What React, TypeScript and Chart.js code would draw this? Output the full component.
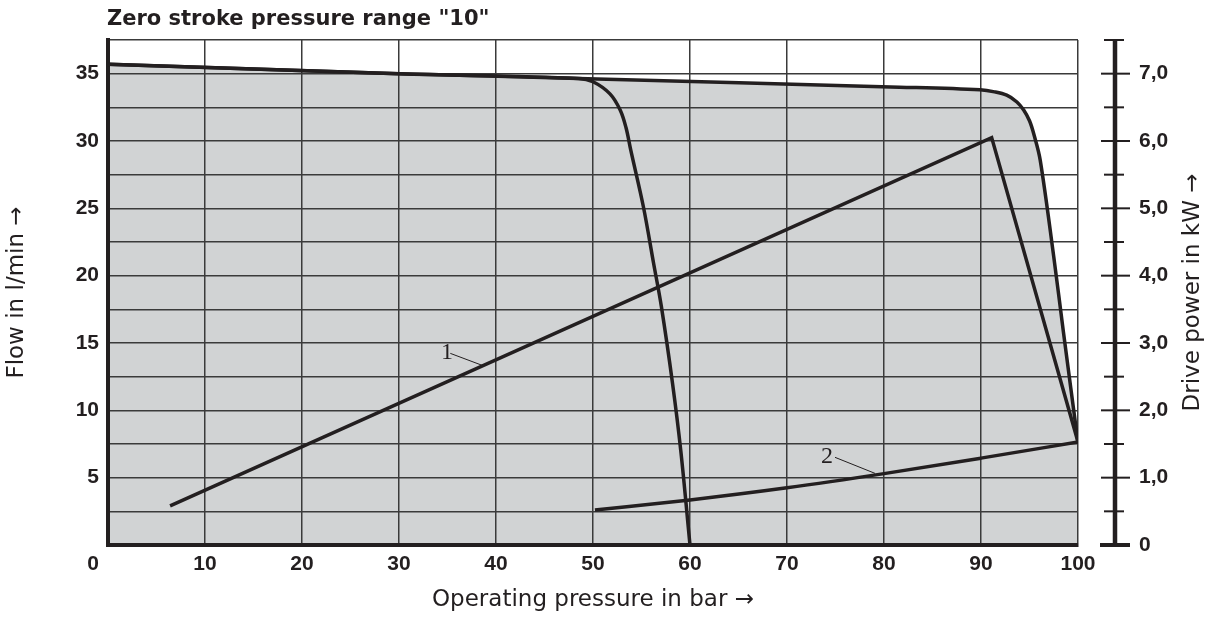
import React, { useEffect, useRef } from 'react';
import { Chart, registerables } from 'chart.js';

Chart.register(...registerables);

// ---------- data ----------
const chartTitle = 'Zero stroke pressure range "10"';
const xTitle = 'Operating pressure in bar →';
const yTitle = 'Flow in l/min →';
const y1Title = 'Drive power in kW →';

const flowLabels = [5, 10, 15, 20, 25, 30, 35];
const powerLabelValues = [0, 1, 2, 3, 4, 5, 6, 7];
const powerLabels = ['0', '1,0', '2,0', '3,0', '4,0', '5,0', '6,0', '7,0'];

// Flow curve, zero stroke pressure 60 bar (pressure in bar, flow in l/min)
const flowA_pressure = [0, 30, 48.5, 50.0, 51.75, 52.8, 53.4, 53.9, 55.2, 56.25, 57.05, 58.2, 59.05, 60];
const flowA_flow = [35.7, 35.0, 34.65, 34.4, 33.5, 32.3, 31.0, 29.3, 25.1, 20.9, 17.7, 12.0, 7.0, 0];

// Flow curve, zero stroke pressure 100 bar (envelope, filled)
const flowB_pressure = [0, 30, 48.5, 81.6, 89.9, 91.4, 92.65, 93.7, 94.4, 95.0, 95.45, 96.1, 97.5, 98.5, 100];
const flowB_flow = [35.7, 35.0, 34.65, 34.0, 33.8, 33.65, 33.4, 32.9, 32.3, 31.5, 30.5, 28.6, 21.4, 15.8, 7.6];

// Drive power curve 1 (kW)
const power1_pressure = [6.4, 91.1, 100];
const power1_kw = [0.58, 6.05, 1.53];

// Drive power curve 2 (kW)
const power2_pressure = [50.2, 60, 70, 80, 90, 100];
const power2_kw = [0.52, 0.67, 0.85, 1.06, 1.29, 1.53];

// curve labels: text, label centre (bar, l/min), leader start, leader end
const curveLabels = [
  { text: '1', at: [34.95, 14.25], from: [35.29, 14.23], to: [38.69, 13.31] },
  { text: '2', at: [74.12, 6.56], from: [74.95, 6.51], to: [79.07, 5.32] },
];

// ---------- styles ----------
const INK = '#231f20';
const GRID = '#3a3a3a';
const FILL = '#d1d3d4';
const TICK_FONT = { family: '"Liberation Sans", Arial, sans-serif', size: 21, weight: 'bold' as const };
const TITLE_FONT_FAMILY = '"DejaVu Sans", sans-serif';

const pts = (xs: number[], ys: number[]) => xs.map((x, i) => ({ x, y: ys[i] }));

const customPlugin = {
  id: 'customDecor',
  afterDraw(chart: any) {
    const { ctx, chartArea, scales } = chart;
    const xs = scales.x;
    const ys = scales.y;
    const y1 = scales.y1;
    ctx.save();

    // chart title
    ctx.fillStyle = INK;
    ctx.font = `bold 21px ${TITLE_FONT_FAMILY}`;
    ctx.textAlign = 'left';
    ctx.textBaseline = 'middle';
    ctx.fillText(chartTitle, chartArea.left - 1, chartArea.top - 20);

    // corner "0" label of the x axis
    ctx.font = `bold 21px ${TICK_FONT.family}`;
    ctx.textAlign = 'center';
    ctx.fillText('0', chartArea.left - 15, chartArea.bottom + 19.5);

    // right-hand drive power axis
    const ax = chartArea.right + 37;
    const top = y1.getPixelForValue(y1.max);
    const bottom = y1.getPixelForValue(0);
    ctx.strokeStyle = INK;
    ctx.lineWidth = 4.5;
    ctx.beginPath();
    ctx.moveTo(ax, top);
    ctx.lineTo(ax, bottom + 2);
    ctx.stroke();
    for (let v = 0; v <= y1.max + 1e-6; v += 0.5) {
      const py = y1.getPixelForValue(v);
      const major = Math.abs(v - Math.round(v)) < 1e-6;
      ctx.beginPath();
      if (v === 0) {
        ctx.lineWidth = 4;
        ctx.moveTo(ax - 15, py);
        ctx.lineTo(ax + 15, py);
      } else if (major) {
        ctx.lineWidth = 2;
        ctx.moveTo(ax - 14, py);
        ctx.lineTo(ax + 15, py);
      } else {
        ctx.lineWidth = 2;
        ctx.moveTo(ax - 11, py);
        ctx.lineTo(ax + 9, py);
      }
      ctx.stroke();
    }
    ctx.font = `bold 21px ${TICK_FONT.family}`;
    ctx.textAlign = 'left';
    ctx.textBaseline = 'middle';
    powerLabelValues.forEach((v, i) => {
      ctx.fillText(powerLabels[i], ax + 24, y1.getPixelForValue(v));
    });

    // right axis title
    ctx.save();
    ctx.translate(chart.width - 15, (chartArea.top + chartArea.bottom) / 2);
    ctx.rotate(-Math.PI / 2);
    ctx.font = `23px ${TITLE_FONT_FAMILY}`;
    ctx.textAlign = 'center';
    ctx.textBaseline = 'middle';
    ctx.fillText(y1Title, 0, 0);
    ctx.restore();

    // curve labels with leader lines
    ctx.font = '24px "Liberation Serif", "DejaVu Serif", serif';
    ctx.textAlign = 'center';
    ctx.textBaseline = 'middle';
    ctx.lineWidth = 1;
    curveLabels.forEach((l) => {
      ctx.fillText(l.text, xs.getPixelForValue(l.at[0]), ys.getPixelForValue(l.at[1]));
      ctx.beginPath();
      ctx.moveTo(xs.getPixelForValue(l.from[0]), ys.getPixelForValue(l.from[1]));
      ctx.lineTo(xs.getPixelForValue(l.to[0]), ys.getPixelForValue(l.to[1]));
      ctx.stroke();
    });

    ctx.restore();
  },
};

export default function App() {
  const canvasRef = useRef<HTMLCanvasElement | null>(null);

  useEffect(() => {
    if (!canvasRef.current) return;
    const lineBase = {
      borderColor: INK,
      borderWidth: 3.5,
      pointRadius: 0,
      fill: false,
      borderJoinStyle: 'miter' as const,
    };
    const chart = new Chart(canvasRef.current, {
      type: 'line',
      data: {
        datasets: [
          {
            ...lineBase,
            label: 'Flow (100 bar)',
            data: pts(flowB_pressure, flowB_flow),
            yAxisID: 'y',
            fill: 'origin',
            backgroundColor: FILL,
            tension: 0.35,
          },
          {
            ...lineBase,
            label: 'Flow (60 bar)',
            data: pts(flowA_pressure, flowA_flow),
            yAxisID: 'y',
            tension: 0.35,
          },
          {
            ...lineBase,
            label: 'Power 1',
            data: pts(power1_pressure, power1_kw),
            yAxisID: 'y1',
            tension: 0,
          },
          {
            ...lineBase,
            label: 'Power 2',
            data: pts(power2_pressure, power2_kw),
            yAxisID: 'y1',
            cubicInterpolationMode: 'monotone',
          },
        ],
      },
      options: {
        animation: false,
        responsive: true,
        maintainAspectRatio: false,
        layout: { padding: { top: 40, right: 130, left: 0, bottom: 0 } },
        plugins: {
          legend: { display: false },
          tooltip: { enabled: false },
          filler: { drawTime: 'beforeDraw' },
        },
        scales: {
          x: {
            type: 'linear',
            min: 0,
            max: 100,
            afterFit: (s: any) => { s.height = 74; },
            ticks: {
              stepSize: 10,
              autoSkip: false,
              maxRotation: 0,
              padding: 7,
              color: INK,
              font: TICK_FONT,
              callback: (v: any) => (v === 0 ? '' : String(v)),
            },
            grid: { color: GRID, lineWidth: 1.5, drawTicks: false },
            border: { color: INK, width: 4 },
            title: {
              display: true,
              text: xTitle,
              color: INK,
              font: { family: TITLE_FONT_FAMILY, size: 23 },
              padding: { top: 0, bottom: 5 },
            },
          },
          y: {
            type: 'linear',
            min: 0,
            max: 37.5,
            afterFit: (s: any) => { s.width = 108; },
            ticks: {
              stepSize: 2.5,
              autoSkip: false,
              padding: 9,
              color: INK,
              font: TICK_FONT,
              callback: (v: any) => (flowLabels.includes(v) ? String(v) : ''),
            },
            grid: { color: GRID, lineWidth: 1.5, drawTicks: false },
            border: { color: INK, width: 4 },
            title: {
              display: true,
              text: yTitle,
              color: INK,
              font: { family: TITLE_FONT_FAMILY, size: 23 },
              padding: { top: 3, bottom: 0 },
            },
          },
          y1: {
            type: 'linear',
            position: 'right',
            min: 0,
            max: 7.5,
            display: false,
          },
        },
      },
      plugins: [customPlugin],
    } as any);
    return () => chart.destroy();
  }, []);

  return (
    <div style={{ position: 'fixed', left: 0, top: 0, width: 1208, height: 619, background: '#fff' }}>
      <canvas ref={canvasRef} />
    </div>
  );
}
